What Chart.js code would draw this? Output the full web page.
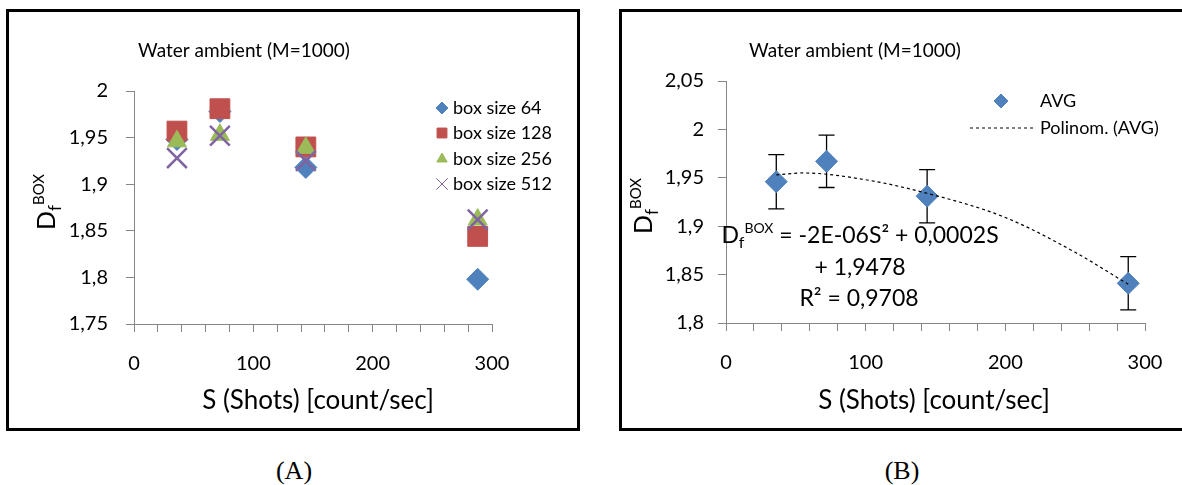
<!DOCTYPE html>
<html>
<head>
<meta charset="utf-8">
<script src="https://cdn.jsdelivr.net/npm/chart.js@4.4.1/dist/chart.umd.min.js"></script>
<style>
  html, body { margin: 0; padding: 0; background: #fff; overflow: hidden; width: 1182px; height: 485px; }
  .panel { position: absolute; top: 9px; height: 422px; border: 3px solid #000; box-sizing: border-box; }
  #boxA { left: 6px; width: 574px; }
  #boxB { left: 619px; width: 570px; }
  .panel canvas { position: absolute; left: 0; top: 0; }
  .cap { position: absolute; top: 456px; width: 80px; text-align: center; line-height: 30px;
         font-family: "Liberation Serif", "Times New Roman", serif; font-size: 26px; color: #000; }
</style>
</head>
<body>
<div class="panel" id="boxA"><canvas id="chartA" width="568" height="416"></canvas></div>
<div class="panel" id="boxB"><canvas id="chartB" width="564" height="416"></canvas></div>
<div class="cap" style="left:254px">(A)</div>
<div class="cap" style="left:862px">(B)</div>
<script>
// data
const shots = [36, 72, 144, 288];
const box64 = [1.948, 1.978, 1.918, 1.798];
const box128 = [1.957, 1.981, 1.940, 1.844];
const box256 = [1.946, 1.953, 1.939, 1.862];
const box512 = [1.928, 1.952, 1.925, 1.862];
const seriesNames = ['box size 64', 'box size 128', 'box size 256', 'box size 512'];

const avgDf = [1.946, 1.967, 1.931, 1.841];
const avgErr = [0.028, 0.027, 0.0275, 0.0275];
const trendShots = [36, 55, 100, 144, 200, 250, 288];
const trendDf = [1.953, 1.955, 1.948, 1.934, 1.909, 1.873, 1.840];

const yTicksA = [1.75, 1.8, 1.85, 1.9, 1.95, 2];
const yTicksB = [1.8, 1.85, 1.9, 1.95, 2, 2.05];

const FONT = 'Lato, "Open Sans", sans-serif';
const AXIS = '#868686';
const TEXT = '#000';
const colors = ['#4F81BD', '#C0504D', '#9BBB59', '#8064A2'];
const styles = ['rectRot', 'rect', 'triangle', 'crossRot'];
const radii = [11, 14, 11, 14];

Chart.defaults.font.family = FONT;
Chart.defaults.font.size = 20;
Chart.defaults.color = TEXT;

function pts(xs, ys) {
  return xs.map((x, i) => ({ x: x, y: ys[i] }));
}

function comma(v) {
  return String(Math.round(v * 100) / 100).replace('.', ',');
}

// draws text made of pieces [text, size, dy]
function richText(ctx, parts, x, y, align) {
  let w = 0;
  parts.forEach(p => { ctx.font = p[1] + 'px ' + FONT; w += ctx.measureText(p[0]).width; });
  let cx = align === 'center' ? x - w / 2 : x;
  ctx.textAlign = 'left';
  ctx.textBaseline = 'alphabetic';
  parts.forEach(p => {
    ctx.font = p[1] + 'px ' + FONT;
    ctx.fillText(p[0], cx, y + (p[2] || 0));
    cx += ctx.measureText(p[0]).width;
  });
}

function yTitle(ctx, x, y) {
  ctx.save();
  ctx.translate(x, y);
  ctx.rotate(-Math.PI / 2);
  richText(ctx, [['D', 25, 0], ['f', 17, 6], ['BOX', 15, -11]], 0, 0, 'center');
  ctx.restore();
}

function xScale(height, pad) {
  return {
    type: 'linear', min: 0, max: 300,
    afterFit: s => { s.height = height; },
    ticks: { stepSize: 20, autoSkip: false, maxRotation: 0, padding: pad,
             callback: v => (v % 100 === 0 ? String(v) : '') },
    grid: { drawOnChartArea: false, drawTicks: true, tickLength: 8, color: AXIS, tickColor: AXIS },
    border: { display: true, color: AXIS, width: 1 }
  };
}

function yScale(ticks, width, pad) {
  return {
    type: 'linear', min: ticks[0], max: ticks[ticks.length - 1],
    afterFit: s => { s.width = width; },
    afterBuildTicks: s => { s.ticks = ticks.map(v => ({ value: v })); },
    ticks: { padding: pad, callback: v => comma(v) },
    grid: { drawOnChartArea: false, drawTicks: true, tickLength: 8, color: AXIS, tickColor: AXIS },
    border: { display: true, color: AXIS, width: 1 }
  };
}

const seriesA = [box64, box128, box256, box512];

const textA = {
  id: 'textA',
  afterDraw(chart) {
    const ctx = chart.ctx;
    ctx.save();
    ctx.fillStyle = TEXT;
    richText(ctx, [['Water ambient (M=1000)', 19, 0]], 235, 45, 'center');
    richText(ctx, [['S (Shots) [count/sec]', 26, 0]], 309, 397, 'center');
    yTitle(ctx, 46, 190);
    const ly = [96, 121, 147, 172];
    const lr = [6, 7, 6, 8];
    seriesNames.forEach((name, i) => {
      ctx.fillStyle = colors[i];
      ctx.strokeStyle = colors[i];
      Chart.helpers.drawPoint(ctx, { pointStyle: styles[i], radius: lr[i], borderWidth: i === 3 ? 1.5 : 1 }, 433, ly[i]);
      ctx.fillStyle = TEXT;
      richText(ctx, [[name, 18, 0]], 444, ly[i] + 6, 'left');
    });
    ctx.restore();
  }
};

new Chart(document.getElementById('chartA'), {
  type: 'scatter',
  data: {
    datasets: seriesNames.map((name, i) => ({
      label: name,
      data: pts(shots, seriesA[i]),
      pointStyle: styles[i],
      pointRadius: radii[i],
      backgroundColor: colors[i],
      borderColor: colors[i],
      borderWidth: i === 3 ? 2.5 : 1,
      order: 4 - i
    }))
  },
  options: {
    responsive: false, animation: false, devicePixelRatio: 1,
    layout: { padding: { left: 0, right: 85, top: 79, bottom: 0 } },
    plugins: { legend: { display: false }, tooltip: { enabled: false } },
    scales: { x: xScale(104, 20), y: yScale(yTicksA, 125, 18) }
  },
  plugins: [textA]
});

const errorBars = {
  id: 'errorBars',
  beforeDatasetsDraw(chart) {
    const { ctx, scales: { x, y } } = chart;
    ctx.save();
    ctx.strokeStyle = '#000';
    ctx.lineWidth = 1.3;
    shots.forEach((s, i) => {
      const px = x.getPixelForValue(s);
      const top = y.getPixelForValue(avgDf[i] + avgErr[i]);
      const bot = y.getPixelForValue(avgDf[i] - avgErr[i]);
      ctx.beginPath();
      ctx.moveTo(px, top); ctx.lineTo(px, bot);
      ctx.moveTo(px - 8, top); ctx.lineTo(px + 8, top);
      ctx.moveTo(px - 8, bot); ctx.lineTo(px + 8, bot);
      ctx.stroke();
    });
    ctx.restore();
  }
};

const textB = {
  id: 'textB',
  afterDraw(chart) {
    const ctx = chart.ctx;
    ctx.save();
    ctx.fillStyle = TEXT;
    richText(ctx, [['Water ambient (M=1000)', 19, 0]], 233, 45, 'center');
    richText(ctx, [['S (Shots) [count/sec]', 26, 0]], 312, 397, 'center');
    yTitle(ctx, 30, 194);
    richText(ctx, [['D', 23, 0], ['f', 16, 5], ['BOX', 14, -10], [' = -2E-06S² + 0,0002S', 23, 0]], 238, 231, 'center');
    richText(ctx, [['+ 1,9478', 23, 0]], 238, 263, 'center');
    richText(ctx, [['R² = 0,9708', 23, 0]], 237, 294, 'center');
    // legend
    ctx.fillStyle = colors[0];
    ctx.strokeStyle = colors[0];
    Chart.helpers.drawPoint(ctx, { pointStyle: 'rectRot', radius: 7, borderWidth: 1 }, 379, 89);
    ctx.strokeStyle = '#000';
    ctx.lineWidth = 1.2;
    ctx.setLineDash([3, 3]);
    ctx.beginPath(); ctx.moveTo(348, 116); ctx.lineTo(411, 116); ctx.stroke();
    ctx.setLineDash([]);
    ctx.fillStyle = TEXT;
    richText(ctx, [['AVG', 18, 0]], 418, 95, 'left');
    richText(ctx, [['Polinom. (AVG)', 18, 0]], 418, 122, 'left');
    ctx.restore();
  }
};

new Chart(document.getElementById('chartB'), {
  type: 'scatter',
  data: {
    datasets: [
      { label: 'Polinom. (AVG)', data: pts(trendShots, trendDf), showLine: true, fill: false,
        borderColor: '#000', borderWidth: 1.2, borderDash: [3, 3], pointRadius: 0,
        cubicInterpolationMode: 'monotone' },
      { label: 'AVG', data: pts(shots, avgDf), pointStyle: 'rectRot', pointRadius: 11,
        backgroundColor: colors[0], borderColor: colors[0], borderWidth: 1 }
    ]
  },
  options: {
    responsive: false, animation: false, devicePixelRatio: 1,
    layout: { padding: { left: 0, right: 41, top: 69, bottom: 0 } },
    plugins: { legend: { display: false }, tooltip: { enabled: false } },
    scales: { x: xScale(105, 20), y: yScale(yTicksB, 104, 14) }
  },
  plugins: [errorBars, textB]
});
</script>
</body>
</html>
